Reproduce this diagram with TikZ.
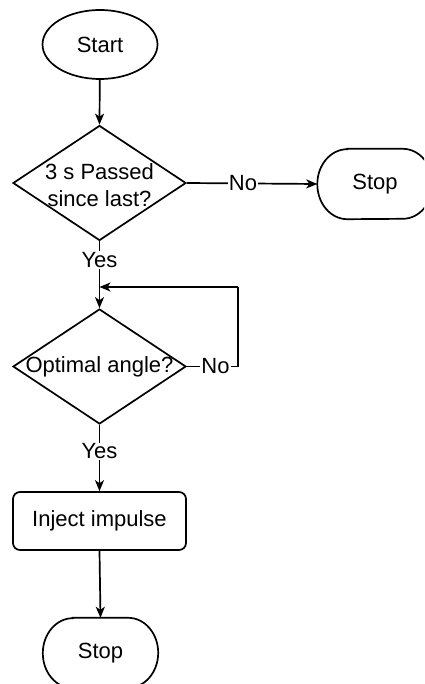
\documentclass[tikz,border=0pt]{standalone}
\usepackage{fontspec}
\setmainfont{Liberation Sans}
\usetikzlibrary{shapes.geometric,arrows.meta}
\tikzset{
  line/.style={line width=1.7pt, draw=black},
  arr/.style={line, -{Stealth[length=11pt,width=9pt,inset=3pt]}},
  txt/.style={font=\fontsize{22}{27}\selectfont, align=center, inner sep=0pt},
  lbl/.style={txt, fill=white, inner sep=1pt},
  startnode/.style={ellipse, line, minimum width=115pt, minimum height=69pt, inner sep=0pt, txt},
  decision/.style={diamond, line, minimum width=173pt, minimum height=115pt, inner sep=0pt},
  process/.style={rectangle, line, rounded corners=7pt, minimum width=173pt, minimum height=58pt, txt},
  termbox/.style={rectangle, minimum width=115pt, minimum height=70pt, inner sep=0pt, txt},
}
\newcommand\termoutline[1]{%
  \draw[line] ([xshift=30pt]#1.north west) -- ([xshift=-30pt]#1.north east)
    arc[start angle=90,end angle=-90,x radius=30pt,y radius=35pt]
    -- ([xshift=30pt]#1.south west)
    arc[start angle=270,end angle=90,x radius=30pt,y radius=35pt] -- cycle;}
\begin{document}
\begin{tikzpicture}[x=1pt,y=-1pt]
\useasboundingbox (0,0) rectangle (424,684);
\clip (0,0) rectangle (424,684);
\fill[white] (0,0) rectangle (424,684);

\node[startnode] (start) at (100,44.5) {Start};
\node[decision] (d1) at (99.5,183) {};
\node[txt] (t1) at (99.5,185) {3 s Passed\\since last?};
\node[termbox] (stop1) at (375,184) {Stop};
\termoutline{stop1}
\node[decision] (d2) at (99.5,366.5) {};
\node[txt] (t2) at (99.5,367) {Optimal angle?};
\node[process] (inj) at (99.5,521) {Inject impulse};
\node[termbox] (stop2) at (100.5,653) {Stop};
\termoutline{stop2}

\coordinate (lc) at (238,287);
\coordinate (loopin) at (99.5,287);

\draw[arr] (start) -- (d1.north);
\draw[arr] (d1.east) -- node[lbl,pos=0.43]{No} (stop1.west);
\draw[arr] (d1.south) -- node[lbl,pos=0.28]{Yes} (d2.north);
\draw[line] (d2.east) -| node[lbl,pos=0.28]{No} (lc);
\draw[arr] (lc) -- (loopin);
\draw[arr] (d2.south) -- node[lbl,pos=0.4]{Yes} (inj.north);
\draw[arr] (inj.south) -- (stop2.north);
\end{tikzpicture}
\end{document}
